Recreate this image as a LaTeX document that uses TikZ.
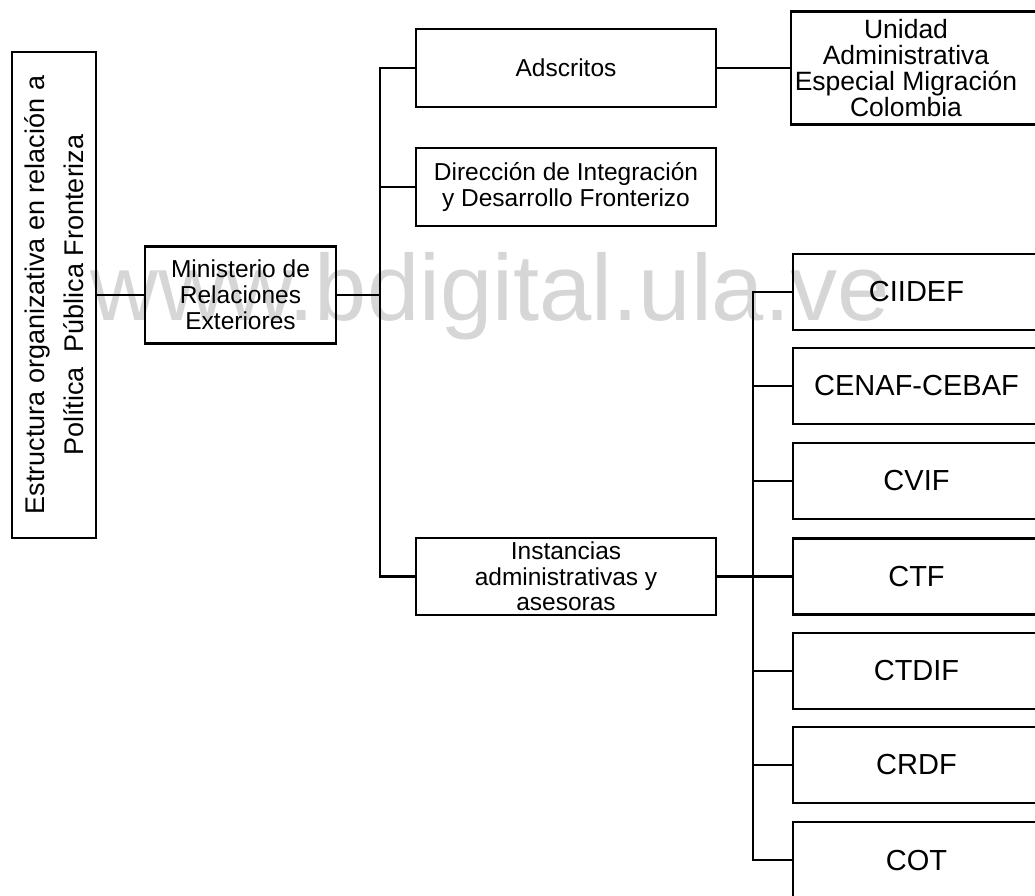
\documentclass[tikz,border=0pt]{standalone}
\usepackage{fontspec}
\setmainfont{Liberation Sans}
\definecolor{wm}{RGB}{214,214,214}
\tikzset{
  box/.style={draw=black, line width=2.2pt, rectangle, inner sep=0pt, align=center},
  midbox/.style={box, minimum width=300pt, minimum height=78pt, font=\fontsize{24.5}{25.5}\selectfont},
  sidebox/.style={box, minimum width=247pt, minimum height=76pt, font=\fontsize{29}{30}\selectfont},
  conn/.style={draw=black, line width=2.2pt},
}
\begin{document}
\begin{tikzpicture}[x=1pt,y=-1pt]
\useasboundingbox (0,0) rectangle (1035,895);
\clip (0,0) rectangle (1035,895);
% watermark
\node[text=wm, font=\fontsize{94}{94}\selectfont, anchor=base, inner sep=0pt] (wmark) at (490,320) {www.bdigital.ula.ve};
% title box
\node[box, minimum width=84pt, minimum height=486pt] (title) at (54,295)
  {\rotatebox{90}{\begin{minipage}{480pt}\centering\fontsize{27}{39}\selectfont
   Estructura organizativa en relación a\\Política~ Pública Fronteriza\end{minipage}}};
% ministerio
\node[box, minimum width=191pt, minimum height=97pt, font=\fontsize{24.5}{26}\selectfont] (mre) at (240.5,295)
  {Ministerio de\\Relaciones\\Exteriores};
% middle column
\node[midbox] (ads) at (566,68) {Adscritos};
\node[midbox] (dir) at (566,187) {Dirección de Integración\\y Desarrollo Fronterizo};
\node[midbox, minimum height=77pt] (ins) at (566,576.5) {Instancias\\administrativas y\\asesoras};
% unidad
\node[box, minimum width=249pt, minimum height=113pt] (uni) at (915.5,68) {};
\node[font=\fontsize{26.5}{26}\selectfont, align=center, inner sep=0pt] (unitext) at (906,68)
  {Unidad\\Administrativa\\Especial Migración\\Colombia};
% right column
\node[sidebox] (c1) at (916.5,292) {CIIDEF};
\node[sidebox] (c2) at (916.5,386) {CENAF-CEBAF};
\node[sidebox] (c3) at (916.5,481) {CVIF};
\node[sidebox] (c4) at (916.5,576.5) {CTF};
\node[sidebox] (c5) at (916.5,671) {CTDIF};
\node[sidebox] (c6) at (916.5,765) {CRDF};
\node[sidebox] (c7) at (916.5,860) {COT};
% bus coordinates
\coordinate (b1) at (380,295);
\coordinate (b2) at (753,576.5);
% connectors
\draw[conn] (title.east |- mre.west) -- (mre.west);
\draw[conn] (mre.east) -- (b1);
\draw[conn] (ads.west) -| (b1) |- (ins.west);
\draw[conn] (dir.west) -- (dir.west -| b1);
\draw[conn] (ads.east) -- (uni.west |- ads.east);
\draw[conn] (ins.east) -- (c4.west);
\draw[conn] (c1.west) -| (b2) |- (c7.west);
\draw[conn] (c2.west) -- (c2.west -| b2);
\draw[conn] (c3.west) -- (c3.west -| b2);
\draw[conn] (c5.west) -- (c5.west -| b2);
\draw[conn] (c6.west) -- (c6.west -| b2);
\end{tikzpicture}
\end{document}
